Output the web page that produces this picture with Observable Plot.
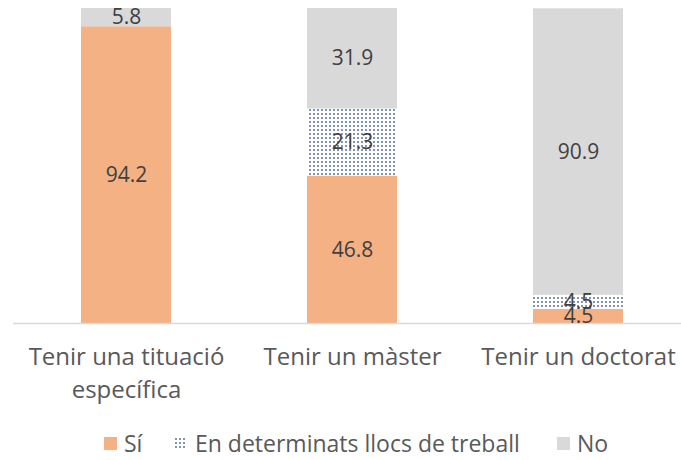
<!DOCTYPE html>
<html>
<head>
<meta charset="utf-8">
<script src="https://cdn.jsdelivr.net/npm/d3@7"></script>
<script src="https://cdn.jsdelivr.net/npm/@observablehq/plot@0.6"></script>
<style>
  body { margin: 0; background: #fff; font-family: "Open Sans", sans-serif; }
  #chart { width: 681px; position: relative; }
  .legend { position: relative; height: 46px; font-size: 23px; color: #595959; }
  .legend .sw { position: absolute; top: 17px; width: 13px; height: 13px; }
  .legend .tx { position: absolute; top: 0; height: 46px; line-height: 46px; white-space: nowrap; }
</style>
</head>
<body>
<div id="chart"></div>
<script>
const categories = ["Tenir una tituació específica", "Tenir un màster", "Tenir un doctorat"];
const tickLabels = ["Tenir una tituació\nespecífica", "Tenir un màster", "Tenir un doctorat"];
const seriesNames = ["Sí", "En determinats llocs de treball", "No"];
const si = [94.2, 46.8, 4.5];
const determinats = [0, 21.3, 4.5];
const no = [5.8, 31.9, 90.9];

const seriesValues = [si, determinats, no];
const rows = [];
seriesNames.forEach((s, k) => {
  categories.forEach((c, i) => rows.push({cat: c, series: s, value: seriesValues[k][i]}));
});
const labelRows = rows.filter(d => d.value > 0);

const W = 681, H = 420;
const plot = Plot.plot({
  width: W,
  height: H,
  marginLeft: 13,
  marginRight: 0,
  marginTop: 8,
  marginBottom: 97,
  style: {fontFamily: "Open Sans, sans-serif", background: "white", overflow: "visible"},
  x: {domain: categories, range: [13, 691], paddingInner: 0.6, paddingOuter: 0.3, axis: null},
  y: {domain: [0, 100], axis: null},
  color: {domain: seriesNames, range: ["#F4B183", "url(#dots)", "#D9D9D9"]},
  marks: [
    Plot.barY(rows, Plot.stackY({x: "cat", y: "value", fill: "series", order: seriesNames})),
    Plot.ruleY([0], {stroke: "#D9D9D9", strokeWidth: 1.5}),
    Plot.text(labelRows, Plot.stackY({x: "cat", y: "value", z: "series", order: seriesNames, text: d => d.value.toFixed(1), fill: "#404040", fontSize: 21})),
    Plot.text(categories, {x: d => d, text: (d, i) => tickLabels[i], frameAnchor: "bottom", lineAnchor: "top", dy: 18, fontSize: 24, lineHeight: 1.375, fill: "#595959"})
  ]
});

const ns = "http://www.w3.org/2000/svg";
const defs = document.createElementNS(ns, "defs");
defs.innerHTML = `<pattern id="dots" patternUnits="userSpaceOnUse" width="4" height="4">
  <rect width="4" height="4" fill="#ffffff"/>
  <rect x="1" y="1" width="2" height="2" fill="#8394B2"/>
</pattern>`;
plot.insertBefore(defs, plot.firstChild);
document.getElementById("chart").appendChild(plot);

// legend
const legend = document.createElement("div");
legend.className = "legend";
const swatchPos = [104, 174, 557];
const textPos = [124, 195, 577];
const legendFill = ["#F4B183", null, "#D9D9D9"];
seriesNames.forEach((s, i) => {
  let sw;
  if (legendFill[i]) {
    sw = document.createElement("div");
    sw.className = "sw";
    sw.style.background = legendFill[i];
  } else {
    sw = document.createElementNS(ns, "svg");
    sw.setAttribute("class", "sw");
    sw.setAttribute("width", 13); sw.setAttribute("height", 13);
    sw.innerHTML = `<rect width="13" height="13" fill="url(#dots)"/>`;
  }
  sw.style.left = swatchPos[i] + "px";
  legend.appendChild(sw);
  const t = document.createElement("span");
  t.className = "tx";
  t.style.left = textPos[i] + "px";
  t.textContent = s;
  legend.appendChild(t);
});
document.getElementById("chart").appendChild(legend);
</script>
</body>
</html>
